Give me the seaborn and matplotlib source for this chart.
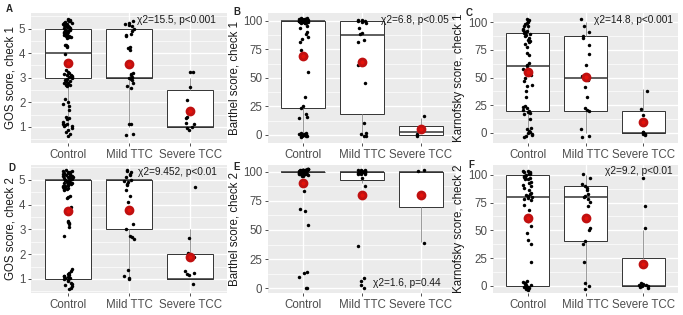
import numpy as np
import pandas as pd
import matplotlib
matplotlib.use("Agg")
import matplotlib.pyplot as plt
from matplotlib.ticker import MultipleLocator, FixedLocator
import seaborn as sns

sns.set_theme(style="white")
plt.rcParams['font.family'] = ['Liberation Sans', 'DejaVu Sans']
np.random.seed(3)

groups = ["Control", "Mild TTC", "Severe TCC"]

# values as plotted (jittered vertically in the original figure)
gos1_control = [0.62, 0.7, 0.78, 0.85, 0.95, 1.02, 1.05, 1.08, 1.1, 1.12, 1.2, 1.3, 1.35, 1.38,
                1.7, 1.85, 1.95, 2.0, 2.15,
                2.65, 2.7, 2.72, 2.75, 2.78, 2.8, 2.85, 2.88, 2.9, 2.95, 3.0, 3.02, 3.05, 3.08,
                3.1, 3.12, 3.15, 3.2, 3.25, 3.3,
                3.98, 4.25, 4.28, 4.32, 4.35,
                4.62, 4.65, 4.7, 4.72, 4.75, 4.78, 4.8, 4.82, 4.85, 4.88, 4.9, 4.92, 4.95, 4.98,
                5.0, 5.02, 5.05, 5.08, 5.1, 5.12, 5.15, 5.18, 5.2, 5.22, 5.25, 5.28, 5.3, 5.32,
                5.35, 5.38, 4.68, 4.76, 4.84, 4.94, 5.04, 5.14, 5.24, 5.34]
gos1_mild = [0.65, 0.7, 1.1, 1.12, 2.6, 2.65, 2.8, 2.9, 2.95, 3.0, 3.05, 3.1, 3.15, 3.2,
             4.15, 4.2, 4.25, 4.7, 4.75, 4.8, 4.9, 5.0, 5.1, 5.15, 5.2, 5.25, 5.3]
gos1_severe = [3.22, 3.25, 2.62, 2.08, 1.4, 1.35, 1.1, 1.0, 0.95, 0.85, 1.15]

barthel1_control = [97.6, 97.9, 98.2, 98.5, 98.8, 99.0, 99.2, 99.4, 99.6, 99.8, 100.0, 100.2,
                    100.4, 100.6, 100.8, 101.0, 101.2, 101.4, 101.6, 101.8, 102.0, 102.2, 98.0,
                    98.7, 99.3, 99.9, 100.5, 101.1, 101.7, 99.5, 100.3, 100.9,
                    95.5, 94.0, 90.5, 88.5, 86.0, 84.0, 81.5, 74.0, 69.0, 55.5, 33.5, 25.5,
                    24.0, 18.0, 15.5, 14.5,
                    -1.5, -1.2, -1.0, -0.8, -0.5, 0.0, 0.3, 0.6, 1.0, 1.3, 1.6, 2.0]
barthel1_mild = [-1.0, -0.5, 0.5, 1.5, 10.5, 45.5, 61.5, 81.0, 83.5, 88.5, 89.5, 94.0, 97.8,
                 98.5, 99.5, 100.0, 100.5, 101.0]
barthel1_severe = [16.5, 5.5, 0.5, -0.5]

karnofsky1_control = [96.5, 97, 98, 99, 100, 101, 102, 103,
                      86, 87.5, 88.5, 89, 90, 91, 91.5, 92, 93, 94,
                      78, 80, 82, 83, 84, 70, 72, 58, 60, 61.5, 63, 47, 50, 52,
                      38, 42, 43, 32, 17, 18, 19, 20, 21, 22, 23, 24, 12,
                      -4, -3, -2, -1, 0, 1, 2, 3, 4]
karnofsky1_mild = [-3.5, -3, 3.5, 20, 21, 22, 32, 41.5, 48, 51, 61.5, 71, 79, 86, 88, 91, 97, 103]
karnofsky1_severe = [-2.5, -1.5, -1, 0.5, 1, 16, 21.5, 38]

gos2_control = [0.6, 0.65, 0.7, 0.75, 0.8, 0.85, 0.9, 0.95, 1.0, 1.02, 1.05, 1.08, 1.1, 1.12,
                1.15, 1.2, 1.25, 1.3, 1.38,
                2.75, 3.1, 3.2, 3.25, 3.3, 3.35,
                3.9, 4.25, 4.3, 4.35,
                4.6, 4.62, 4.65, 4.68, 4.7, 4.72, 4.75, 4.78, 4.8, 4.82, 4.85, 4.88, 4.9, 4.92,
                4.95, 4.98, 5.0, 5.02, 5.05, 5.08, 5.1, 5.12, 5.15, 5.18, 5.2, 5.22, 5.25, 5.28,
                5.3, 5.32, 5.35, 5.38, 4.66, 4.74, 4.84, 4.96, 5.06, 5.16, 5.26, 5.36, 4.86,
                5.01, 5.13, 4.91]
gos2_mild = [1.0, 1.05, 1.1, 1.35, 2.6, 2.7, 2.75, 3.0, 3.2, 4.1, 4.35, 4.6, 4.8, 4.85, 4.9,
             4.95, 5.0, 5.1, 5.2, 5.25, 5.3, 5.35, 5.4]
gos2_severe = [0.8, 1.15, 1.2, 1.25, 1.3, 1.9, 2.05, 2.65, 4.7]

barthel2_control = [97.6, 97.8, 98.0, 98.2, 98.4, 98.6, 98.8, 99.0, 99.2, 99.4, 99.6, 99.8,
                    100.0, 100.2, 100.4, 100.6, 100.8, 101.0, 101.2, 101.4, 101.6, 101.8,
                    102.0, 102.2, 97.7, 98.1, 98.5, 98.9, 99.3, 99.7, 100.1, 100.5, 100.9,
                    101.3, 101.7, 102.1, 98.3, 99.1, 99.9, 100.7, 101.5, 97.9, 98.7, 99.5,
                    100.3, 101.1, 101.9, 99.0, 100.0, 101.0,
                    96.5, 96.0, 97.0, 83.0, 68.0, 66.0, 54.5, 14.0, 13.0, 10.0, 0.0, 0.3]
barthel2_mild = [0.5, 3.0, 6.0, 9.0, 36.5, 88.0, 94.5,
                 97.6, 98.0, 98.4, 98.8, 99.2, 99.6, 100.0, 100.4, 100.8, 101.2, 101.6,
                 99.0, 100.2, 101.0, 98.6, 99.8]
barthel2_severe = [100.5, 101.0, 38.5]

karnofsky2_control = [-4, -3, -2.5, -2, -1.5, -1, -0.5, 0, 0.5, 1, 1.5, 2, 2.5, 3, 4,
                      21, 38, 41, 48, 54, 58, 62, 68, 73,
                      77, 78, 79, 80, 81, 82, 83, 84, 86, 88, 90, 91, 93, 94,
                      96, 96.5, 97, 97.5, 98, 98.5, 99, 99.5, 100, 100.5, 101, 101.5, 102,
                      102.5, 103, 103.5, 104]
karnofsky2_mild = [-3, 0, 2, 21, 38, 40, 50, 52, 72, 76, 78, 80, 81, 83, 86, 88, 90, 92, 97, 101]
karnofsky2_severe = [-2, -1, -0.5, 0, 0.5, 1, 1.5, 2, 52, 72, 97]

panels = [
    ("A", "GOS score, check 1", [gos1_control, gos1_mild, gos1_severe], 1,
     (0.34, 5.64), "χ2=15.5, p<0.001", (0.944, 0.945)),
    ("B", "Barthel score, check 1", [barthel1_control, barthel1_mild, barthel1_severe], 5,
     (-7, 106.7), "χ2=6.8, p<0.05", (0.96, 0.945)),
    ("C", "Karnofsky score, check 1", [karnofsky1_control, karnofsky1_mild, karnofsky1_severe], 10,
     (-9.3, 108.4), "χ2=14.8, p<0.001", (0.975, 0.945)),
    ("D", "GOS score, check 2", [gos2_control, gos2_mild, gos2_severe], 1,
     (0.43, 5.6), "χ2=9.452, p<0.01", (0.95, 0.945)),
    ("E", "Barthel score, check 2", [barthel2_control, barthel2_mild, barthel2_severe], 5,
     (-4, 105.7), "χ2=1.6, p=0.44", (0.92, 0.08)),
    ("F", "Karnofsky score, check 2", [karnofsky2_control, karnofsky2_mild, karnofsky2_severe], 10,
     (-6.6, 109), "χ2=9.2, p<0.01", (0.97, 0.953)),
]

W, H = 683, 315
cols = [(31, 227), (268, 456), (493, 678)]
rows = [(13, 143), (165, 293)]
letter_pos = [(6, 9), (233, 12), (466, 13), (8, 168), (233, 167), (468, 165)]

fig = plt.figure(figsize=(W / 100, H / 100), dpi=100)
fig.patch.set_facecolor("white")

for i, (letter, ylab, series, step, ylim, note, note_pos) in enumerate(panels):
    x0, x1 = cols[i % 3]
    y0, y1 = rows[i // 3]
    ax = fig.add_axes([x0 / W, 1 - y1 / H, (x1 - x0) / W, (y1 - y0) / H])

    df = pd.concat([pd.DataFrame({"group": g, "shown": s}) for g, s in zip(groups, series)],
                   ignore_index=True)
    df["score"] = np.round(df["shown"] / step) * step

    sns.boxplot(data=df, x="group", y="score", order=groups, width=0.75, showfliers=False,
                showcaps=False, whis=1.5, color="white", saturation=1, linecolor="#333333",
                linewidth=0.7, whiskerprops={"color": "#9a9a9a"},
                medianprops={"color": "#333333", "linewidth": 1.1}, ax=ax)
    sns.stripplot(data=df, x="group", y="shown", order=groups, jitter=0.08, size=2.5,
                  color="black", ax=ax, zorder=4)
    sns.pointplot(data=df, x="group", y="score", order=groups, estimator="mean",
                  errorbar=None, linestyle="none", marker="o", markersize=5,
                  color="#E3120B", markeredgecolor="#C01010", ax=ax, zorder=5)

    ax.set_xlim(-0.6, 2.6)
    ax.set_ylim(*ylim)
    if step == 1:
        ax.yaxis.set_major_locator(FixedLocator([1, 2, 3, 4, 5]))
        ax.yaxis.set_minor_locator(MultipleLocator(0.5))
    else:
        ax.yaxis.set_major_locator(FixedLocator([0, 25, 50, 75, 100]))
        ax.yaxis.set_minor_locator(MultipleLocator(12.5))

    ax.set_facecolor("#EBEBEB")
    ax.set_axisbelow(True)
    ax.grid(True, which="major", color="white", linewidth=1.0)
    ax.grid(True, which="minor", axis="y", color="white", linewidth=0.5)
    for sp in ax.spines.values():
        sp.set_visible(False)
    ax.tick_params(which="major", length=2.5, width=0.6, color="#333333",
                   labelsize=8.3, labelcolor="#4D4D4D", pad=1.5, bottom=True, left=True)
    ax.tick_params(which="minor", length=0)
    ax.set_xlabel("")
    ax.set_ylabel(ylab, fontsize=8.3, color="#1a1a1a", labelpad=2)

    ax.text(note_pos[0], note_pos[1], note, transform=ax.transAxes, ha="right", va="center",
            fontsize=7.3, color="#1a1a1a", zorder=6)
    lx, ly = letter_pos[i]
    fig.text(lx / W, 1 - ly / H, letter, fontsize=7, fontweight="bold", ha="left", va="center")

fig.savefig("out.png", dpi=100)
